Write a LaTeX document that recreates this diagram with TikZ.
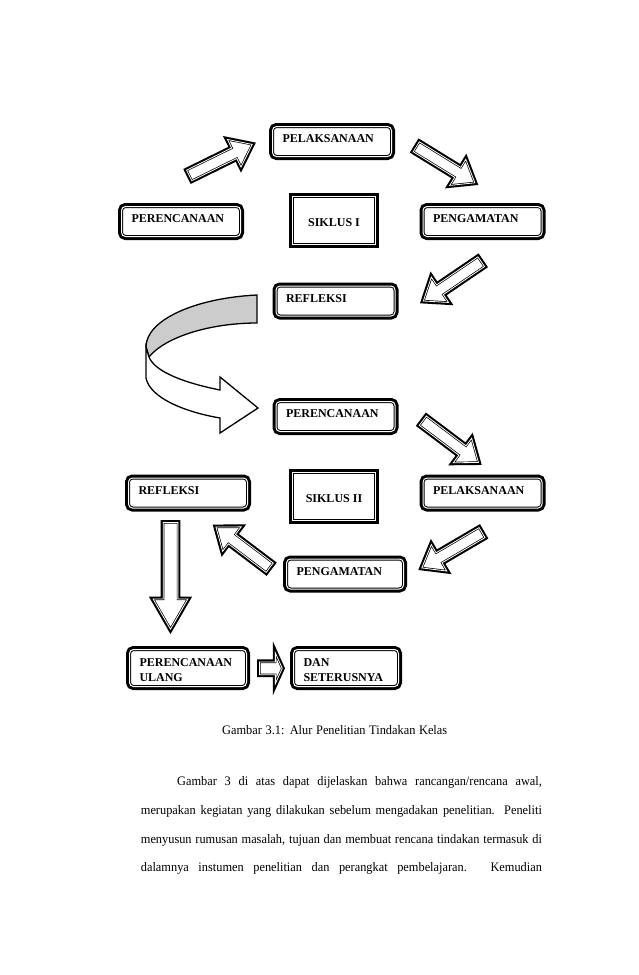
\documentclass[tikz,border=0pt]{standalone}
\usepackage{fontspec}
\setmainfont{Liberation Serif}
\newfontfamily\bodyfont{Liberation Serif}[FakeStretch=0.95]
\usetikzlibrary{shapes.arrows}
\begin{document}
\begin{tikzpicture}[x=1pt,y=1pt]
\tikzstyle{every node}+=[inner sep=0pt]
\tikzstyle{ttline}=[preaction={draw,line width=7pt}, fill=white, draw, double, line width=1pt, double distance=1pt]
\tikzstyle{twobox}=[ttline, rounded corners=4pt, minimum width=119pt, minimum height=30pt, text width=99pt, inner xsep=10pt, align=left, font=\bfseries\fontsize{12}{15}\selectfont]
\tikzstyle{labelbox}=[twobox, text depth=5pt]
\tikzstyle{cyclebox}=[ttline, minimum width=83pt, minimum height=48pt, text height=13pt, font=\bfseries\fontsize{12}{15}\selectfont]
\tikzstyle{blockarrow}=[single arrow, preaction={draw,line width=5pt}, fill=white, draw, double, line width=0.7pt, double distance=0.8pt, inner ysep=5.5pt, single arrow head extend=9.5pt, single arrow tip angle=75, minimum width=0pt, outer sep=0pt, anchor=tail]
\tikzstyle{bodytext}=[anchor=base west, font=\bodyfont\fontsize{13}{16}\selectfont]
\useasboundingbox (0,0) rectangle (638,-975);

\node[labelbox] (pel1) at (332,-141.5) {PELAKSANAAN};
\node[labelbox] (per1) at (181,-221.5) {PERENCANAAN};
\node[cyclebox] (sik1) at (334,-220.5) {SIKLUS I};
\node[labelbox] (pen1) at (482.5,-221.5) {PENGAMATAN};
\node[labelbox] (ref1) at (335.5,-301) {REFLEKSI};

\node[labelbox] (per2) at (335.5,-416.5) {PERENCANAAN};
\node[labelbox] (ref2) at (188,-493) {REFLEKSI};
\node[cyclebox] (sik2) at (334,-496.5) {SIKLUS II};
\node[labelbox] (pel2) at (482.5,-493) {PELAKSANAAN};
\node[labelbox, minimum width=117pt, text width=97pt] (pen2) at (345,-574) {PENGAMATAN};

\node[twobox, minimum width=117pt, text width=97pt, minimum height=37pt] (ulang) at (188,-668) {\rule{0pt}{13pt}PERENCANAAN\\ULANG};
\node[twobox, minimum width=105pt, text width=85pt, minimum height=37pt] (dst) at (346,-668) {\rule{0pt}{13pt}DAN\\SETERUSNYA};

\node[blockarrow, rotate=26.2, minimum height=70.2pt] (a1) at (189.2,-175.4) {};
\node[blockarrow, rotate=-31.6, minimum height=68.7pt] (a2) at (416.3,-146.8) {};
\node[blockarrow, rotate=214.2, minimum height=69.9pt] (a3) at (481.2,-261.7) {};
\node[blockarrow, rotate=-36.9, minimum height=69.6pt] (a4) at (422.8,-420.7) {};
\node[blockarrow, rotate=210.4, minimum height=69.8pt] (a5) at (482.0,-532.6) {};
\node[blockarrow, rotate=142.9, minimum height=67.4pt] (a6) at (269.7,-567.7) {};
\node[blockarrow, rotate=-90, minimum height=106.6pt, inner ysep=7pt, single arrow head extend=10pt, single arrow tip angle=60] (a7) at (170.5,-522.5) {};
\node[blockarrow, minimum height=22.75pt, inner ysep=6pt, single arrow head extend=9pt, single arrow tip angle=131.6] (a8) at (259.5,-668.3) {};

\draw[line width=1.3pt, fill=gray!40] (257,-295) .. controls (195,-298) and (146,-320) .. (146,-347) -- (149,-357) .. controls (165,-337) and (210,-323) .. (257,-323) -- cycle;
\draw[line width=1.3pt, fill=white, line join=miter] (146,-347) -- (146,-378) .. controls (150,-398) and (185,-412) .. (220,-418) -- (220,-433) -- (258,-408) -- (220,-377) -- (220,-390) .. controls (185,-383) and (155,-372) .. (149,-357) -- cycle;

\node[bodytext] (cap) at (222,-734) {\makebox[225pt][s]{Gambar 3.1: Alur Penelitian Tindakan Kelas}};
\node[bodytext] (l1) at (177,-785) {\makebox[364.7pt][s]{Gambar 3 di atas dapat dijelaskan bahwa rancangan/rencana awal,}};
\node[bodytext] (l2) at (140.7,-814) {\makebox[401pt][s]{merupakan kegiatan yang dilakukan sebelum mengadakan penelitian. Peneliti}};
\node[bodytext] (l3) at (140.7,-843) {\makebox[401pt][s]{menyusun rumusan masalah, tujuan dan membuat rencana tindakan termasuk di}};
\node[bodytext] (l4) at (140.7,-871) {\makebox[401pt][s]{dalamnya instumen penelitian dan perangkat pembelajaran. Kemudian}};
\end{tikzpicture}
\end{document}
